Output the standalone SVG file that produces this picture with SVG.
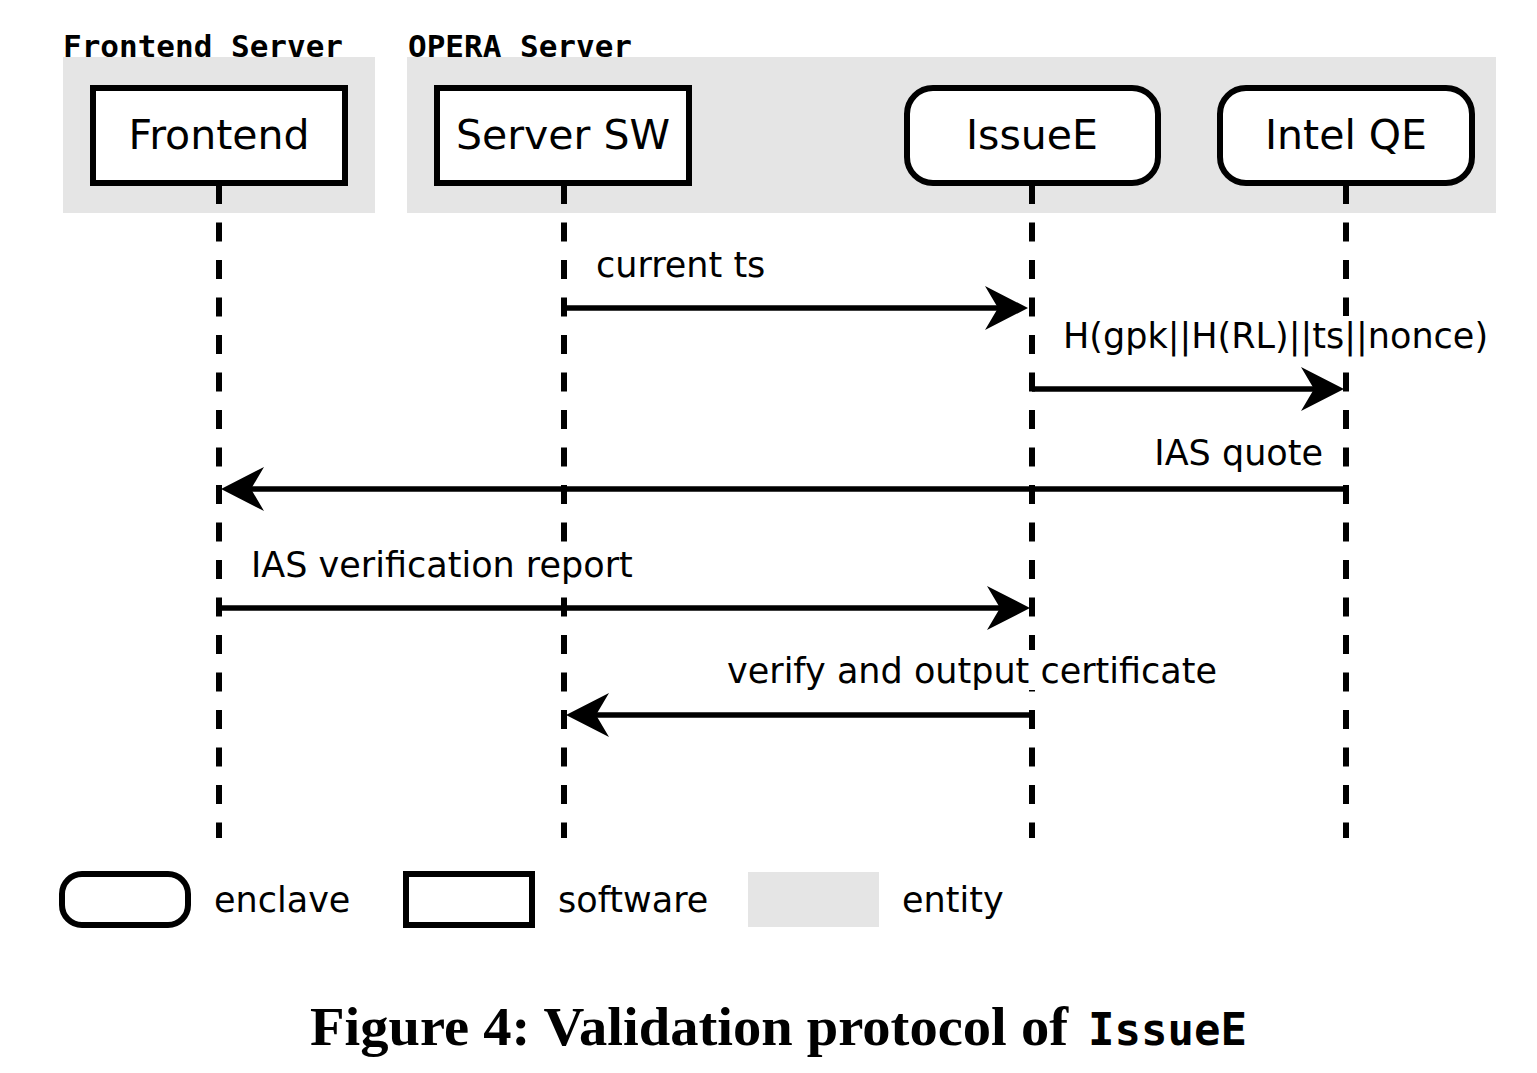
<svg xmlns="http://www.w3.org/2000/svg" width="1537" height="1073" viewBox="0 0 1537 1073">
<style>
.ent{fill:#e5e5e5;}
.hdr{font-family:"DejaVu Sans Mono","Liberation Mono",monospace;font-weight:bold;font-size:31px;fill:#000;}
.box{fill:#fff;stroke:#000;stroke-width:6;}
.nlbl{font-family:"DejaVu Sans","Liberation Sans",sans-serif;font-size:41px;fill:#000;text-anchor:middle;}
.life{stroke:#000;stroke-width:6;stroke-dasharray:19 18.5;fill:none;}
.msg{stroke:#000;stroke-width:5.5;fill:none;marker-end:url(#ah);}
.lbl{font-family:"DejaVu Sans","Liberation Sans",sans-serif;font-size:35px;fill:#000;}
.bg{fill:#fff;}
.cap{font-family:"Liberation Serif","DejaVu Serif",serif;font-weight:bold;font-size:55px;fill:#000;}
.capm{font-family:"DejaVu Sans Mono","Liberation Mono",monospace;font-weight:bold;font-size:44px;fill:#000;}
</style>
<defs>
<marker id="ah" viewBox="0 0 43 44" refX="13" refY="22" markerWidth="43" markerHeight="44" markerUnits="userSpaceOnUse" orient="auto">
<path d="M43,22 L0,0 L13,22 L0,44 Z" fill="#000"/>
</marker>
</defs>
<rect width="1537" height="1073" fill="#fff"/>

<g id="entity-frontend-server">
<rect class="ent" x="63" y="57" width="312" height="156"/>
<text class="hdr" x="63" y="57">Frontend Server</text>
</g>
<g id="entity-opera-server">
<rect class="ent" x="407" y="57" width="1089" height="156"/>
<text class="hdr" x="408" y="57">OPERA Server</text>
</g>

<g id="lifelines">
<line class="life" x1="219" y1="185" x2="219" y2="838"/>
<line class="life" x1="564" y1="185" x2="564" y2="838"/>
<line class="life" x1="1032" y1="185" x2="1032" y2="838"/>
<line class="life" x1="1346" y1="185" x2="1346" y2="838"/>
</g>

<g id="node-frontend">
<rect class="box" x="93" y="88" width="252" height="95"/>
<text class="nlbl" x="219" y="149">Frontend</text>
</g>
<g id="node-server-sw">
<rect class="box" x="437" y="88" width="252" height="95"/>
<text class="nlbl" x="563" y="149">Server SW</text>
</g>
<g id="node-issuee">
<rect class="box" x="907" y="88" width="251" height="95" rx="26"/>
<text class="nlbl" x="1032" y="149">IssueE</text>
</g>
<g id="node-intel-qe">
<rect class="box" x="1220" y="88" width="252" height="95" rx="26"/>
<text class="nlbl" x="1346" y="149">Intel QE</text>
</g>

<g id="connectors">
<g id="msg-current-ts">
<line class="msg" x1="564" y1="308" x2="998" y2="308"/>
<text class="lbl" x="596" y="277">current ts</text>
</g>
<g id="msg-hash">
<rect class="bg" x="1058" y="316" width="436" height="42"/>
<line class="msg" x1="1032" y1="389" x2="1314" y2="389"/>
<text class="lbl" x="1063" y="348">H(gpk||H(RL)||ts||nonce)</text>
</g>
<g id="msg-ias-quote">
<line class="msg" x1="1346" y1="489" x2="251" y2="489"/>
<text class="lbl" x="1323" y="465" text-anchor="end">IAS quote</text>
</g>
<g id="msg-ias-report">
<rect class="bg" x="246" y="545" width="394" height="46"/>
<line class="msg" x1="219" y1="608" x2="1000" y2="608"/>
<text class="lbl" x="251" y="577">IAS verification report</text>
</g>
<g id="msg-verify">
<rect class="bg" x="722" y="650" width="504" height="40"/>
<line class="msg" x1="1032" y1="715" x2="596" y2="715"/>
<text class="lbl" x="727" y="683">verify and output certificate</text>
</g>
</g>

<g id="legend">
<rect class="box" x="62" y="874" width="126" height="51" rx="20"/>
<text class="lbl" x="214" y="912">enclave</text>
<rect class="box" x="406" y="874" width="126" height="51"/>
<text class="lbl" x="558" y="912">software</text>
<rect class="ent" x="748" y="872" width="131" height="55"/>
<text class="lbl" x="902" y="912">entity</text>
</g>

<g id="caption">
<text class="cap" x="310" y="1045" textLength="758" lengthAdjust="spacingAndGlyphs">Figure 4: Validation protocol of</text>
<text class="capm" x="1088" y="1045">IssueE</text>
</g>
</svg>
